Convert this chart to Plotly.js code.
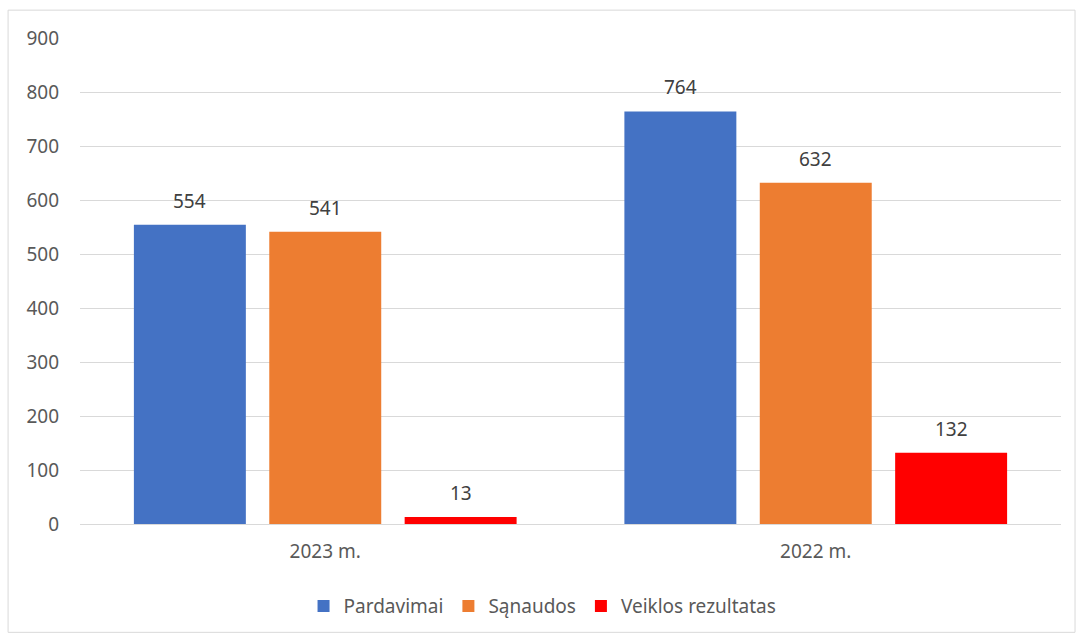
<!DOCTYPE html>
<html>
<head>
<meta charset="utf-8">
<script src="https://cdn.plot.ly/plotly-3.0.1.min.js"></script>
<style>html,body{margin:0;padding:0;background:#fff;}#chart{width:1077px;height:637px;}</style>
</head>
<body>
<div id="chart"></div>
<script>
const categories = ["2023 m.", "2022 m."];
const pardavimai = [554, 764];
const sanaudos = [541, 632];
const rezultatas = [13, 132];
const seriesNames = ["Pardavimai", "Sąnaudos", "Veiklos rezultatas"];
const yTicks = [0, 100, 200, 300, 400, 500, 600, 700, 800, 900];

const colors = ["#4472C4", "#ED7D31", "#FF0000"];
const fontFam = "Noto Sans, Open Sans, sans-serif";
const seriesVals = [pardavimai, sanaudos, rezultatas];

const W = 1077, H = 637;
const margin = {l: 80, r: 15.5, t: 38, b: 110};
const bargap = 0.172, bargroupgap = 0.173;

const traces = seriesVals.map((vals, i) => ({
  type: "bar",
  name: seriesNames[i],
  x: categories,
  y: vals,
  marker: {color: colors[i]},
  hoverinfo: "skip"
}));

// value labels above bars, placed via the library's axes (category + data value)
const plotW = W - margin.l - margin.r;
const slot = plotW / categories.length * (1 - bargap) / seriesVals.length;
const annotations = [];
seriesVals.forEach((vals, i) => {
  vals.forEach((v, j) => {
    annotations.push({
      xref: "x", yref: "y",
      x: categories[j], y: v,
      text: String(v),
      showarrow: false,
      xanchor: "center", yanchor: "bottom",
      xshift: (i - (seriesVals.length - 1) / 2) * slot,
      yshift: 9,
      font: {family: fontFam, size: 19, color: "#404040"}
    });
  });
});

const layout = {
  width: W,
  height: H,
  margin: margin,
  paper_bgcolor: "#ffffff",
  plot_bgcolor: "#ffffff",
  barmode: "group",
  bargap: bargap,
  bargroupgap: bargroupgap,
  showlegend: true,
  legend: {
    orientation: "h",
    x: 0.4715, xanchor: "center",
    y: -0.13, yanchor: "top",
    font: {family: fontFam, size: 19, color: "#595959"},
    traceorder: "normal"
  },
  xaxis: {
    type: "category",
    showgrid: false,
    showline: true,
    linecolor: "#D9D9D9",
    linewidth: 1,
    ticks: "",
    tickfont: {family: fontFam, size: 19, color: "#595959"},
    ticklabelstandoff: 10
  },
  yaxis: {
    range: [0, 900],
    tickvals: yTicks,
    ticktext: yTicks.map(String),
    showgrid: true,
    gridcolor: "#D9D9D9",
    gridwidth: 1,
    zeroline: false,
    showline: false,
    ticks: "",
    tickfont: {family: fontFam, size: 19, color: "#595959"},
    ticklabelstandoff: 20
  },
  annotations: annotations,
  shapes: [{
    type: "rect", xref: "paper", yref: "paper",
    x0: -0.0733, x1: 1.0143, y0: -0.2229, y1: 1.0573,
    line: {color: "#D9D9D9", width: 1}, fillcolor: "rgba(0,0,0,0)", layer: "below"
  }]
};

Plotly.newPlot("chart", traces, layout, {displayModeBar: false, staticPlot: true});
</script>
</body>
</html>
